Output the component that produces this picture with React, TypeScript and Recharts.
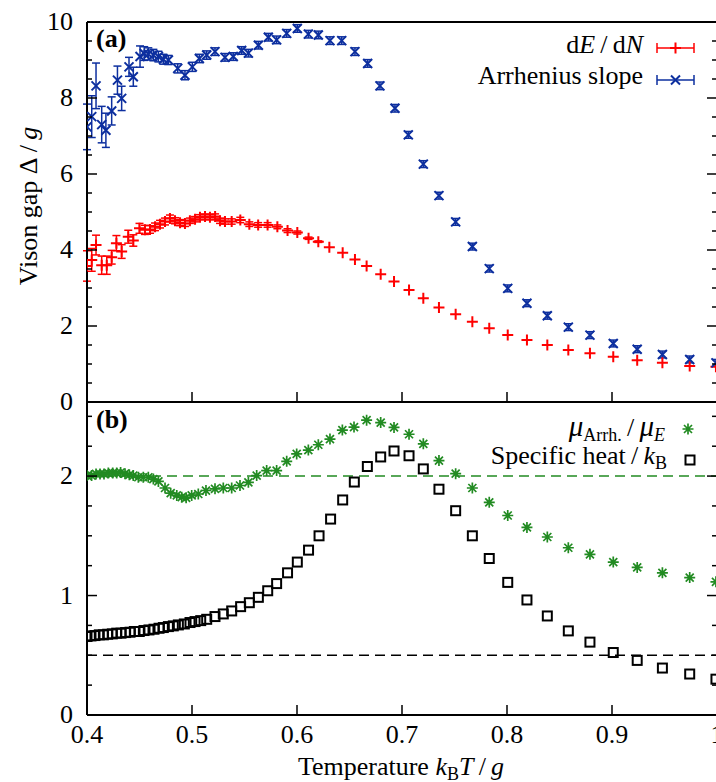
import React from "react";
import { ScatterChart, Scatter, XAxis, YAxis, ErrorBar, ReferenceLine } from "recharts";

const FONT = '"Liberation Serif", "Times New Roman", serif';
const RED = "#ff0000";
const BLUE = "#0d2f9f";
const GREEN = "#228b22";
const SL = "\u2009/\u2009";

// x axis: temperature k_B T / g
const xTicks = [0.4, 0.5, 0.6, 0.7, 0.8, 0.9, 1.0];
const xLabels = ["0.4", "0.5", "0.6", "0.7", "0.8", "0.9", "1"];

// panel (a) axis
const gapTicks = [0, 0.5, 1, 1.5, 2, 2.5, 3, 3.5, 4, 4.5, 5, 5.5, 6, 6.5, 7, 7.5, 8, 8.5, 9, 9.5, 10];
const gapMajor = [0, 2, 4, 6, 8, 10];
const gapLabels = ["0", "2", "4", "6", "8", "10"];

// panel (b) axis
const ratioTicks = [0, 0.25, 0.5, 0.75, 1, 1.25, 1.5, 1.75, 2, 2.25, 2.5];
const ratioMajor = [0, 1, 2];
const ratioLabels = ["0", "1", "2"];

// dE/dN
const tDE = [
  0.4, 0.4045, 0.4086, 0.414, 0.4188, 0.4235, 0.428, 0.433, 0.4393, 0.4441,
  0.45, 0.4552, 0.46, 0.4648, 0.4695, 0.4743, 0.479, 0.4838, 0.4886, 0.4933,
  0.498, 0.5029, 0.5076, 0.5124, 0.5171, 0.522, 0.5267, 0.5314, 0.5378, 0.546,
  0.5546, 0.563, 0.572, 0.5813, 0.591, 0.6003, 0.611, 0.6203, 0.6308, 0.6435,
  0.6552, 0.6663, 0.6797, 0.6924, 0.7067, 0.7203, 0.7352, 0.7511, 0.767, 0.7831,
  0.8007, 0.819, 0.8384, 0.8584, 0.879, 0.9012, 0.924, 0.948, 0.974, 0.999,
];
const dEdN = [
  3.58, 3.74, 4.13, 3.6, 3.6, 3.81, 4.18, 3.96, 4.35, 4.25,
  4.57, 4.53, 4.54, 4.61, 4.68, 4.75, 4.83, 4.77, 4.72, 4.7,
  4.77, 4.81, 4.86, 4.88, 4.86, 4.88, 4.77, 4.75, 4.75, 4.79,
  4.68, 4.66, 4.66, 4.61, 4.51, 4.46, 4.31, 4.22, 4.07, 3.93,
  3.75, 3.58, 3.36, 3.17, 2.95, 2.73, 2.49, 2.31, 2.11, 1.94,
  1.76, 1.63, 1.5, 1.37, 1.28, 1.19, 1.1, 1.03, 0.95, 0.93,
];
const dEdNErr = [
  0.4, 0.3, 0.26, 0.24, 0.24, 0.18, 0.2, 0.18, 0.17, 0.15,
  0.13, 0.12, 0.1, 0.1, 0.1, 0.09, 0.09, 0.08, 0.08, 0.08,
  0.07, 0.07, 0.07, 0.07, 0.07, 0.07, 0.07, 0.07, 0.07, 0.07,
  0.06, 0.06, 0.06, 0.05, 0.05, 0.04, 0.03, 0.02, 0, 0,
  0, 0, 0, 0, 0, 0, 0, 0, 0, 0,
  0, 0, 0, 0, 0, 0, 0, 0, 0, 0,
];

// Arrhenius slope
const tArr = [
  0.4, 0.4045, 0.4086, 0.414, 0.418, 0.4235, 0.429, 0.433, 0.44, 0.4441,
  0.4505, 0.4545, 0.4584, 0.4632, 0.468, 0.4727, 0.4775, 0.4864, 0.4933, 0.5003,
  0.507, 0.514, 0.5219, 0.5314, 0.5393, 0.5473, 0.5537, 0.5632, 0.5727, 0.5806,
  0.5902, 0.6003, 0.6108, 0.6203, 0.6314, 0.6426, 0.6552, 0.6673, 0.679, 0.6933,
  0.706, 0.7203, 0.7352, 0.7511, 0.767, 0.7831, 0.8007, 0.819, 0.8384, 0.8584,
  0.879, 0.9012, 0.924, 0.948, 0.974, 0.999,
];
const arrSlope = [
  7.24, 7.51, 8.32, 7.3, 7.15, 7.66, 8.47, 7.99, 8.82, 8.56,
  9.09, 9.17, 9.16, 9.13, 9.09, 9.02, 9.0, 8.78, 8.6, 8.82,
  9.04, 9.13, 9.22, 9.07, 9.09, 9.25, 9.18, 9.39, 9.6, 9.53,
  9.7, 9.83, 9.68, 9.66, 9.51, 9.51, 9.22, 8.91, 8.32, 7.73,
  7.03, 6.26, 5.43, 4.74, 4.09, 3.51, 2.99, 2.6, 2.27, 1.97,
  1.76, 1.54, 1.39, 1.25, 1.12, 1.03,
];
const arrErr = [
  0.6, 0.55, 0.6, 0.48, 0.45, 0.37, 0.37, 0.32, 0.25, 0.25,
  0.28, 0.18, 0.16, 0.15, 0.14, 0.13, 0.12, 0.12, 0.12, 0.12,
  0.11, 0.11, 0.1, 0.1, 0.1, 0.1, 0.1, 0.1, 0.1, 0.1,
  0.1, 0.1, 0.1, 0.1, 0.1, 0.1, 0.1, 0.1, 0.1, 0.1,
  0.09, 0.09, 0.09, 0.09, 0.09, 0.09, 0.09, 0.09, 0.09, 0.09,
  0.09, 0.09, 0.09, 0.09, 0.09, 0.09,
];

// mu_Arrh / mu_E
const tMu = [
  0.4, 0.4044, 0.4086, 0.4124, 0.4162, 0.4203, 0.4245, 0.4283, 0.432, 0.4362,
  0.4403, 0.4441, 0.4489, 0.4536, 0.4584, 0.4632, 0.468, 0.4743, 0.4797, 0.4855,
  0.4902, 0.4944, 0.4997, 0.506, 0.5133, 0.5219, 0.5298, 0.5378, 0.5457, 0.5537,
  0.5616, 0.5711, 0.5806, 0.5902, 0.5997, 0.6108, 0.6203, 0.6314, 0.6432, 0.6543,
  0.6663, 0.6797, 0.6924, 0.7067, 0.7203, 0.7352, 0.7511, 0.767, 0.7831, 0.8007,
  0.819, 0.8384, 0.8584, 0.879, 0.9012, 0.924, 0.948, 0.974, 0.999,
];
const muRatio = [
  2.004, 2.004, 2.018, 2.018, 2.018, 2.025, 2.025, 2.025, 2.03, 2.02,
  2.01, 2.004, 1.99, 1.99, 1.99, 1.975, 1.955, 1.9, 1.857, 1.838,
  1.823, 1.818, 1.838, 1.85, 1.879, 1.893, 1.9, 1.9, 1.921, 1.948,
  2.004, 2.046, 2.046, 2.123, 2.185, 2.218, 2.262, 2.31, 2.385, 2.41,
  2.468, 2.448, 2.407, 2.35, 2.27, 2.13, 2.02, 1.9, 1.78, 1.67,
  1.57, 1.49, 1.4, 1.345, 1.28, 1.235, 1.19, 1.15, 1.115,
];

// specific heat / k_B
const tHeat = [
  0.4, 0.4038, 0.4076, 0.4117, 0.4156, 0.4197, 0.4241, 0.4283, 0.4324, 0.4368,
  0.441, 0.4451, 0.4498, 0.4543, 0.459, 0.4638, 0.4686, 0.4727, 0.4775, 0.4822,
  0.487, 0.4927, 0.4981, 0.5029, 0.5083, 0.514, 0.5219, 0.5298, 0.5378, 0.5463,
  0.5546, 0.5632, 0.5721, 0.5806, 0.591, 0.6003, 0.611, 0.621, 0.632, 0.6435,
  0.6546, 0.667, 0.6797, 0.6924, 0.7067, 0.7203, 0.7352, 0.7511, 0.767, 0.7831,
  0.8007, 0.819, 0.8384, 0.8584, 0.879, 0.9012, 0.924, 0.948, 0.974, 0.999,
];
const heat = [
  0.657, 0.662, 0.665, 0.671, 0.671, 0.676, 0.679, 0.685, 0.685, 0.69,
  0.693, 0.699, 0.699, 0.707, 0.712, 0.718, 0.726, 0.732, 0.74, 0.746,
  0.754, 0.762, 0.774, 0.782, 0.79, 0.801, 0.824, 0.846, 0.871, 0.907,
  0.94, 0.985, 1.04, 1.1, 1.19, 1.28, 1.38, 1.5, 1.64, 1.8,
  1.95, 2.08, 2.16, 2.21, 2.17, 2.06, 1.89, 1.71, 1.5, 1.31,
  1.11, 0.963, 0.829, 0.704, 0.61, 0.523, 0.457, 0.393, 0.343, 0.3,
];

const zip = (t: number[], v: number[], e?: number[]) =>
  t.map((x, i) => ({ t: x, v: v[i], e: e ? e[i] : 0 }));

const axisStyle = { stroke: "#000", strokeWidth: 2 };

type Side = "left" | "right" | "top" | "bottom" | "bottomUp";

function tickFor(side: Side, majors: number[], labels?: string[]) {
  return (p: any) => {
    const { x, y, payload } = p;
    const idx = majors.findIndex((m) => Math.abs(m - payload.value) < 1e-6);
    const len = idx >= 0 ? 10 : 5;
    let line = null;
    if (side === "left") line = <line x1={x} x2={x + len} y1={y} y2={y} />;
    if (side === "right") line = <line x1={x} x2={x - len} y1={y} y2={y} />;
    if (side === "top") line = <line x1={x} x2={x} y1={y} y2={y + len} />;
    if (side === "bottom" || side === "bottomUp") line = <line x1={x} x2={x} y1={y} y2={y - len} />;
    const lbl = labels && idx >= 0 ? labels[idx] : null;
    return (
      <g stroke="#000" strokeWidth={1.5}>
        {line}
        {lbl && side === "left" && (
          <text x={x - 14} y={y + 8} textAnchor="end" stroke="none" fill="#000" fontFamily={FONT} fontSize={26}>
            {lbl}
          </text>
        )}
        {lbl && side === "bottom" && (
          <text x={x} y={y + 28} textAnchor="middle" stroke="none" fill="#000" fontFamily={FONT} fontSize={26}>
            {lbl}
          </text>
        )}
      </g>
    );
  };
}

const Plus = ({ cx, cy }: any) => (
  <path d={`M${cx - 5.5},${cy}H${cx + 5.5}M${cx},${cy - 5.5}V${cy + 5.5}`} stroke={RED} strokeWidth={2} fill="none" />
);
const Cross = ({ cx, cy }: any) => (
  <path d={`M${cx - 4.5},${cy - 4.5}L${cx + 4.5},${cy + 4.5}M${cx - 4.5},${cy + 4.5}L${cx + 4.5},${cy - 4.5}`} stroke={BLUE} strokeWidth={2} fill="none" />
);
const Star = ({ cx, cy }: any) => (
  <path
    d={`M${cx - 5.5},${cy}H${cx + 5.5}M${cx},${cy - 5.5}V${cy + 5.5}M${cx - 4},${cy - 4}L${cx + 4},${cy + 4}M${cx - 4},${cy + 4}L${cx + 4},${cy - 4}`}
    stroke={GREEN}
    strokeWidth={1.7}
    fill="none"
  />
);
const Square = ({ cx, cy }: any) => (
  <rect x={cx - 4.5} y={cy - 4.5} width={9} height={9} stroke="#000" strokeWidth={2} fill="none" />
);

const W = 718;

function GapPanel() {
  return (
    <ScatterChart width={W} height={420} margin={{ top: 21, right: 0, bottom: 17, left: 0 }}>
      <XAxis xAxisId="b" dataKey="t" type="number" domain={[0.4, 1]} ticks={xTicks} interval={0} orientation="bottom" height={1} tickSize={0} tickMargin={0} tickLine={false} axisLine={axisStyle} tick={tickFor("bottomUp", xTicks)} allowDataOverflow />
      <XAxis xAxisId="t" type="number" domain={[0.4, 1]} ticks={xTicks} interval={0} orientation="top" height={1} tickSize={0} tickMargin={0} tickLine={false} axisLine={axisStyle} tick={tickFor("top", xTicks)} allowDataOverflow />
      <YAxis yAxisId="l" dataKey="v" type="number" domain={[0, 10]} ticks={gapTicks} interval={0} width={87} tickSize={0} tickMargin={0} tickLine={false} axisLine={axisStyle} tick={tickFor("left", gapMajor, gapLabels)} allowDataOverflow />
      <YAxis yAxisId="r" type="number" orientation="right" domain={[0, 10]} ticks={gapTicks} interval={0} width={1} tickSize={0} tickMargin={0} tickLine={false} axisLine={axisStyle} tick={tickFor("right", gapMajor)} allowDataOverflow />
      <Scatter xAxisId="b" yAxisId="l" data={zip(tDE, dEdN, dEdNErr)} dataKey="v" shape={Plus} isAnimationActive={false}>
        <ErrorBar dataKey="e" direction="y" width={4} stroke={RED} strokeWidth={1.5} />
      </Scatter>
      <Scatter xAxisId="b" yAxisId="l" data={zip(tArr, arrSlope, arrErr)} dataKey="v" shape={Cross} isAnimationActive={false}>
        <ErrorBar dataKey="e" direction="y" width={4} stroke={BLUE} strokeWidth={1.5} />
      </Scatter>
    </ScatterChart>
  );
}

function RatioPanel() {
  return (
    <ScatterChart width={W} height={390} margin={{ top: 9, right: 0, bottom: 0, left: 0 }}>
      <XAxis xAxisId="b" dataKey="t" type="number" domain={[0.4, 1]} ticks={xTicks} interval={0} orientation="bottom" height={67} tickSize={0} tickMargin={0} tickLine={false} axisLine={axisStyle} tick={tickFor("bottom", xTicks, xLabels)} allowDataOverflow />
      <XAxis xAxisId="t" type="number" domain={[0.4, 1]} ticks={xTicks} interval={0} orientation="top" height={1} tickSize={0} tickMargin={0} tickLine={false} axisLine={axisStyle} tick={tickFor("top", xTicks)} allowDataOverflow />
      <YAxis yAxisId="l" dataKey="v" type="number" domain={[0, 2.62]} ticks={ratioTicks} interval={0} width={87} tickSize={0} tickMargin={0} tickLine={false} axisLine={axisStyle} tick={tickFor("left", ratioMajor, ratioLabels)} allowDataOverflow />
      <YAxis yAxisId="r" type="number" orientation="right" domain={[0, 2.62]} ticks={ratioTicks} interval={0} width={1} tickSize={0} tickMargin={0} tickLine={false} axisLine={axisStyle} tick={tickFor("right", ratioMajor)} allowDataOverflow />
      <ReferenceLine xAxisId="b" yAxisId="l" y={2} stroke={GREEN} strokeWidth={1.4} strokeDasharray="10 6" />
      <ReferenceLine xAxisId="b" yAxisId="l" y={0.5} stroke="#000" strokeWidth={1.4} strokeDasharray="10 6" />
      <Scatter xAxisId="b" yAxisId="l" data={zip(tMu, muRatio)} dataKey="v" shape={Star} isAnimationActive={false} />
      <Scatter xAxisId="b" yAxisId="l" data={zip(tHeat, heat)} dataKey="v" shape={Square} isAnimationActive={false} />
    </ScatterChart>
  );
}

function Overlay() {
  const t = { fontFamily: FONT, fontSize: 26, fill: "#000" } as const;
  return (
    <svg width={716} height={782} style={{ position: "absolute", left: 0, top: 0, pointerEvents: "none" }}>
      <text x={96} y={47} {...t} fontWeight="bold">(a)</text>
      <text x={96} y={428} {...t} fontWeight="bold">(b)</text>

      <text x={643} y={53} textAnchor="end" {...t}>
        d<tspan fontStyle="italic">E</tspan>{SL}d<tspan fontStyle="italic">N</tspan>
      </text>
      <g stroke={RED} strokeWidth={1.5}>
        <line x1={657} x2={694} y1={48} y2={48} />
        <line x1={657} x2={657} y1={43} y2={53} />
        <line x1={694} x2={694} y1={43} y2={53} />
      </g>
      <Plus cx={675.5} cy={48} />
      <text x={643} y={84} textAnchor="end" {...t}>Arrhenius slope</text>
      <g stroke={BLUE} strokeWidth={1.5}>
        <line x1={657} x2={694} y1={80} y2={80} />
        <line x1={657} x2={657} y1={75} y2={85} />
        <line x1={694} x2={694} y1={75} y2={85} />
      </g>
      <Cross cx={675.5} cy={80} />

      <text x={665} y={436} textAnchor="end" {...t}>
        <tspan fontStyle="italic" fontSize={29}>μ</tspan>
        <tspan fontSize={18} dy={5}>Arrh.</tspan>
        <tspan dy={-5}>{SL}</tspan>
        <tspan fontStyle="italic" fontSize={29}>μ</tspan>
        <tspan fontSize={18} dy={5} fontStyle="italic">E</tspan>
      </text>
      <Star cx={688} cy={429} />
      <text x={667} y={464} textAnchor="end" {...t}>
        Specific heat{SL}<tspan fontStyle="italic">k</tspan>
        <tspan fontSize={18} dy={5}>B</tspan>
      </text>
      <Square cx={690} cy={460} />

      <text transform="translate(37,206) rotate(-90)" textAnchor="middle" {...t}>
        Vison gap Δ{SL}<tspan fontStyle="italic">g</tspan>
      </text>
      <text x={401} y={775} textAnchor="middle" {...t}>
        Temperature <tspan fontStyle="italic">k</tspan>
        <tspan fontSize={18} dy={5}>B</tspan>
        <tspan dy={-5} fontStyle="italic">T</tspan>{SL}<tspan fontStyle="italic">g</tspan>
      </text>
    </svg>
  );
}

export default function App() {
  return (
    <div style={{ position: "absolute", left: 0, top: 0, width: 716, height: 782, overflow: "hidden", background: "#fff" }}>
      <div style={{ position: "absolute", left: 0, top: 0 }}>
        <GapPanel />
      </div>
      <div style={{ position: "absolute", left: 0, top: 392 }}>
        <RatioPanel />
      </div>
      <Overlay />
    </div>
  );
}
